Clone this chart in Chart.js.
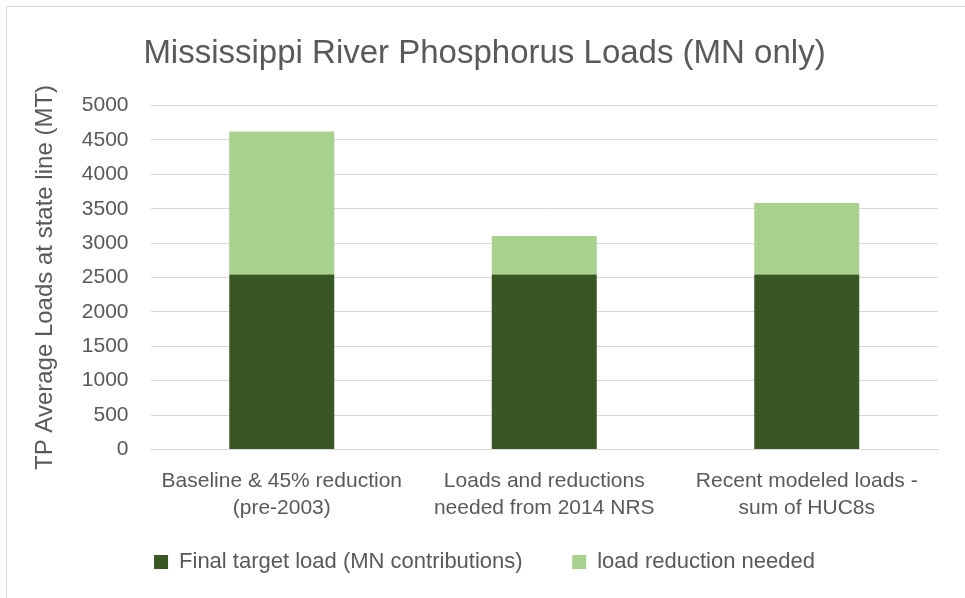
<!DOCTYPE html>
<html>
<head>
<meta charset="utf-8">
<script src="https://cdn.jsdelivr.net/npm/chart.js@4.4.0/dist/chart.umd.min.js"></script>
<style>
  html, body { margin: 0; padding: 0; background: #fff; }
  #frame { position: absolute; left: 6px; top: 6px; width: 980px; height: 620px; border: 1px solid #d9d9d9; box-sizing: border-box; }
  #wrap { position: absolute; left: 0; top: 0; width: 965px; height: 598px; }
</style>
</head>
<body>
<div id="frame"></div>
<div id="wrap"><canvas id="chart"></canvas></div>
<script>
// data
const categories = [
  ['Baseline & 45% reduction', '(pre-2003)'],
  ['Loads and reductions', 'needed from 2014 NRS'],
  ['Recent modeled loads -', 'sum of HUC8s']
];
const targetLoad = [2544, 2544, 2544];
const reductionNeeded = [2081, 560, 1040];
const yTicks = [0, 500, 1000, 1500, 2000, 2500, 3000, 3500, 4000, 4500, 5000];

const font = "'Liberation Sans', Arial, sans-serif";
const grey = '#595959';

new Chart(document.getElementById('chart'), {
  type: 'bar',
  data: {
    labels: categories,
    datasets: [
      { label: 'Final target load (MN contributions)', data: targetLoad, backgroundColor: '#385723' },
      { label: 'load reduction needed', data: reductionNeeded, backgroundColor: '#a9d18e' }
    ]
  },
  options: {
    responsive: true,
    maintainAspectRatio: false,
    animation: false,
    layout: { padding: { left: 31, right: 27, top: 34, bottom: 15 } },
    datasets: { bar: { categoryPercentage: 1, barPercentage: 0.4 } },
    plugins: {
      title: {
        display: true,
        text: 'Mississippi River Phosphorus Loads (MN only)',
        color: grey,
        font: { family: font, size: 33, weight: 'normal' },
        padding: { top: 0, bottom: 32 }
      },
      legend: {
        position: 'bottom',
        labels: {
          color: grey, font: { family: font, size: 22 }, boxWidth: 14, boxHeight: 14, padding: 19,
          // widen the gap after the first entry a little, like the reference
          generateLabels: chart => Chart.defaults.plugins.legend.labels.generateLabels(chart)
            .map((l, i) => i === 0 ? Object.assign(l, { text: l.text + '     ' }) : l)
        }
      },
      tooltip: { enabled: false }
    },
    scales: {
      x: {
        stacked: true,
        grid: { display: false },
        border: { color: '#d9d9d9' },
        ticks: { color: grey, font: { family: font, size: 21, lineHeight: 1.3 }, padding: 10, maxRotation: 0 }
      },
      y: {
        stacked: true,
        min: 0,
        max: 5000,
        afterBuildTicks: axis => { axis.ticks = yTicks.map(v => ({ value: v })); },
        grid: { color: '#d9d9d9', drawTicks: false },
        border: { display: false },
        ticks: { color: grey, font: { family: font, size: 21 }, padding: 22, callback: v => String(v) },
        title: {
          display: true,
          text: 'TP Average Loads at state line (MT)',
          color: grey,
          font: { family: font, size: 24 },
          padding: { top: 0, bottom: 0 }
        }
      }
    }
  }
});
</script>
</body>
</html>
